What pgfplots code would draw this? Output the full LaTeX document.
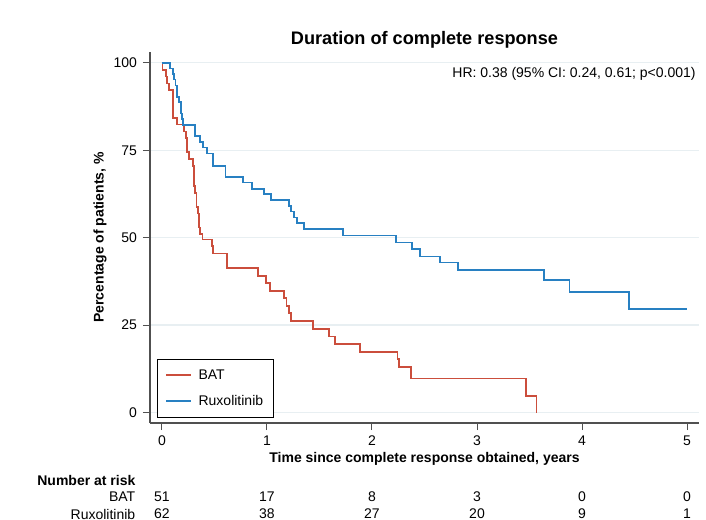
\documentclass[border=0pt]{standalone}
\usepackage{fontspec}
\setmainfont{Liberation Sans}
\usepackage{pgfplots}
\pgfplotsset{compat=1.18}
\definecolor{batred}{RGB}{203,78,60}
\definecolor{ruxblue}{RGB}{40,128,194}
\definecolor{gridc}{RGB}{232,239,242}
\definecolor{axc}{RGB}{80,80,80}

% 1px of the reference = 0.75pt
\begin{document}
\begin{tikzpicture}
\begin{axis}[
    scale only axis,
    width=411.75pt, height=278.25pt,
    xmin=-0.114, xmax=5.114,
    ymin=-3.0, ymax=103.1,
    axis x line*=bottom, axis y line*=left,
    axis line style={axc, line width=0.9pt},
    xtick={0,1,2,3,4,5},
    ytick={0,25,50,75,100},
    tick align=outside,
    major tick length=5.25pt,
    tick style={axc, line width=0.75pt},
    ymajorgrids,
    grid style={gridc, line width=0.9pt},
    tick label style={font=\fontsize{10.5}{12}\selectfont},
    /pgf/number format/assume math mode=true,
    xticklabel style={yshift=-1pt},
    yticklabel style={xshift=-1pt},
    clip=false,
    legend style={at={(0.0122,0.0143)}, anchor=south west,
        draw=black, line width=0.75pt,
        font=\fontsize{10.5}{12}\selectfont,
        row sep=6.5pt, column sep=3pt, inner xsep=6pt, inner ysep=5.5pt},
    legend cell align=left,
    legend image code/.code={\draw[#1, line width=1.3pt] (0pt,0pt) -- (18.75pt,0pt);},
]
\addplot[const plot, batred, line width=1.3pt] coordinates {
    (0,100) (0.005,98.0) (0.038,96.1) (0.05,94.1) (0.07,92.2) (0.108,84.3)
    (0.146,82.4) (0.21,80.4) (0.229,78.4) (0.241,74.5) (0.257,72.5)
    (0.292,70.6) (0.305,64.7) (0.317,62.7) (0.33,58.8) (0.34,56.9)
    (0.355,52.9) (0.365,51.0) (0.385,49.5) (0.473,47.6) (0.489,45.5)
    (0.616,41.3) (0.917,39.1) (0.99,37.0) (1.028,34.8) (1.162,32.7)
    (1.187,30.5) (1.212,28.4) (1.229,26.2) (1.441,23.9) (1.594,21.7)
    (1.648,19.5) (1.886,17.3) (2.244,15.2) (2.26,13.1) (2.368,9.7)
    (3.47,4.8) (3.566,0)
};
\addlegendentry{BAT}
\addplot[const plot, ruxblue, line width=1.3pt] coordinates {
    (0,100) (0.076,98.4) (0.102,96.8) (0.114,95.2) (0.130,93.5)
    (0.146,90.3) (0.165,88.7) (0.178,85.5) (0.194,83.9) (0.203,82.3)
    (0.318,79.0) (0.362,77.4) (0.393,75.8) (0.43,74.1) (0.489,70.6)
    (0.606,67.3) (0.775,65.8) (0.86,64.0) (0.971,62.5) (1.038,60.8)
    (1.21,59.1) (1.226,57.5) (1.257,55.8) (1.283,54.1) (1.355,52.4)
    (1.721,50.6) (2.226,48.6) (2.378,46.7) (2.457,44.6) (2.648,42.9)
    (2.822,40.8) (3.641,37.9) (3.88,34.4) (4.448,29.5) (5.003,29.5)
};
\addlegendentry{Ruxolitinib}

% frame of the whole picture (reference 706x520 px)
\coordinate (BBa) at ([shift={(-112.5pt,-72.75pt)}]rel axis cs:0,0);
\coordinate (BBb) at ([shift={(417pt,317.25pt)}]rel axis cs:0,0);

% title, HR, axis labels
\node[font=\bfseries\fontsize{13.6}{16}\selectfont] at ([yshift=9.5pt]rel axis cs:0.5,1) {Duration of complete response};
\node[anchor=east, font=\fontsize{10.5}{12}\selectfont] at ([shift={(1pt,-16.5pt)}]rel axis cs:1,1) {HR: 0.38 (95\% CI: 0.24, 0.61; p<0.001)};
\node[rotate=90, font=\bfseries\fontsize{10.5}{12}\selectfont] at ([xshift=-37.5pt]rel axis cs:0,0.5) {Percentage of patients, \%};
\node[font=\bfseries\fontsize{10.5}{12}\selectfont] at ([yshift=-27pt]rel axis cs:0.5,0) {Time since complete response obtained, years};

% number at risk table
\node[anchor=west, font=\bfseries\fontsize{10.5}{12}\selectfont] at ([shift={(-88pt,-42.75pt)}]rel axis cs:0,0) {Number at risk};
\node[anchor=east, font=\fontsize{10.5}{12}\selectfont] at ([shift={(-7.5pt,-55.5pt)}]rel axis cs:0,0) {BAT};
\node[anchor=east, font=\fontsize{10.5}{12}\selectfont] at ([shift={(-7.5pt,-68.25pt)}]rel axis cs:0,0) {Ruxolitinib};
\foreach \tx/\na/\nb in {0/51/62, 1/17/38, 2/8/27, 3/3/20, 4/0/9, 5/0/1} {
    \edef\temp{\noexpand\node[font=\noexpand\fontsize{10.5}{12}\noexpand\selectfont] at ([yshift=-55.5pt]axis cs:\tx,-3.0) {\na};
      \noexpand\node[font=\noexpand\fontsize{10.5}{12}\noexpand\selectfont] at ([yshift=-68.25pt]axis cs:\tx,-3.0) {\nb};}
    \temp
}
\end{axis}
\pgfresetboundingbox
\path (BBa) rectangle (BBb);
\end{tikzpicture}
\end{document}
